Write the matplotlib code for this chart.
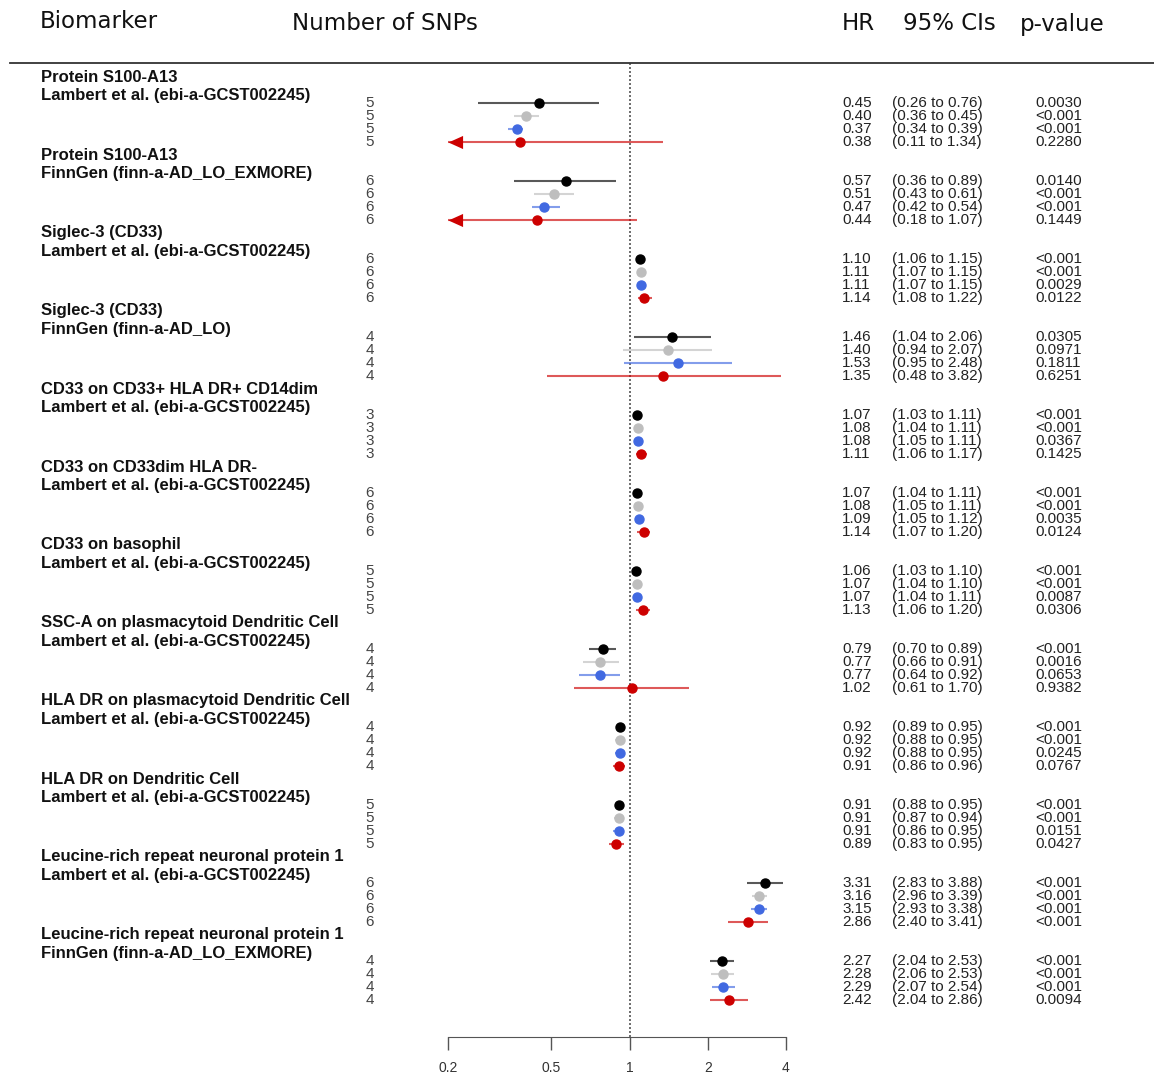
import numpy as np
import matplotlib.pyplot as plt
from matplotlib.path import Path
from matplotlib.transforms import blended_transform_factory

# biomarker labels (two lines each)
titles = ['Protein S100-A13', 'Protein S100-A13', 'Siglec-3 (CD33)', 'Siglec-3 (CD33)',
          'CD33 on CD33+ HLA DR+ CD14dim', 'CD33 on CD33dim HLA DR-', 'CD33 on basophil',
          'SSC-A on plasmacytoid Dendritic Cell', 'HLA DR on plasmacytoid Dendritic Cell',
          'HLA DR on Dendritic Cell', 'Leucine-rich repeat neuronal protein 1',
          'Leucine-rich repeat neuronal protein 1']
sources = ['Lambert et al. (ebi-a-GCST002245)', 'FinnGen (finn-a-AD_LO_EXMORE)',
           'Lambert et al. (ebi-a-GCST002245)', 'FinnGen (finn-a-AD_LO)',
           'Lambert et al. (ebi-a-GCST002245)', 'Lambert et al. (ebi-a-GCST002245)',
           'Lambert et al. (ebi-a-GCST002245)', 'Lambert et al. (ebi-a-GCST002245)',
           'Lambert et al. (ebi-a-GCST002245)', 'Lambert et al. (ebi-a-GCST002245)',
           'Lambert et al. (ebi-a-GCST002245)', 'FinnGen (finn-a-AD_LO_EXMORE)']
n_snps = [5, 6, 6, 4, 3, 6, 5, 4, 4, 5, 6, 4]

hr = [[0.45, 0.40, 0.37, 0.38], [0.57, 0.51, 0.47, 0.44], [1.10, 1.11, 1.11, 1.14],
      [1.46, 1.40, 1.53, 1.35], [1.07, 1.08, 1.08, 1.11], [1.07, 1.08, 1.09, 1.14],
      [1.06, 1.07, 1.07, 1.13], [0.79, 0.77, 0.77, 1.02], [0.92, 0.92, 0.92, 0.91],
      [0.91, 0.91, 0.91, 0.89], [3.31, 3.16, 3.15, 2.86], [2.27, 2.28, 2.29, 2.42]]
ci_lo = [[0.26, 0.36, 0.34, 0.11], [0.36, 0.43, 0.42, 0.18], [1.06, 1.07, 1.07, 1.08],
         [1.04, 0.94, 0.95, 0.48], [1.03, 1.04, 1.05, 1.06], [1.04, 1.05, 1.05, 1.07],
         [1.03, 1.04, 1.04, 1.06], [0.70, 0.66, 0.64, 0.61], [0.89, 0.88, 0.88, 0.86],
         [0.88, 0.87, 0.86, 0.83], [2.83, 2.96, 2.93, 2.40], [2.04, 2.06, 2.07, 2.04]]
ci_hi = [[0.76, 0.45, 0.39, 1.34], [0.89, 0.61, 0.54, 1.07], [1.15, 1.15, 1.15, 1.22],
         [2.06, 2.07, 2.48, 3.82], [1.11, 1.11, 1.11, 1.17], [1.11, 1.11, 1.12, 1.20],
         [1.10, 1.10, 1.11, 1.20], [0.89, 0.91, 0.92, 1.70], [0.95, 0.95, 0.95, 0.96],
         [0.95, 0.94, 0.95, 0.95], [3.88, 3.39, 3.38, 3.41], [2.53, 2.53, 2.54, 2.86]]
pvals = [['0.0030', '<0.001', '<0.001', '0.2280'], ['0.0140', '<0.001', '<0.001', '0.1449'],
         ['<0.001', '<0.001', '0.0029', '0.0122'], ['0.0305', '0.0971', '0.1811', '0.6251'],
         ['<0.001', '<0.001', '0.0367', '0.1425'], ['<0.001', '<0.001', '0.0035', '0.0124'],
         ['<0.001', '<0.001', '0.0087', '0.0306'], ['<0.001', '0.0016', '0.0653', '0.9382'],
         ['<0.001', '<0.001', '0.0245', '0.0767'], ['<0.001', '<0.001', '0.0151', '0.0427'],
         ['<0.001', '<0.001', '<0.001', '<0.001'], ['<0.001', '<0.001', '<0.001', '0.0094']]

colors = ['#000000', '#BEBEBE', '#4169E1', '#CD0000']
xticks = [0.2, 0.5, 1, 2, 4]
xmin, xmax = 0.2, 4

W, H = 1154, 1077
fig = plt.figure(figsize=(W / 100, H / 100), dpi=100)
# plot area in pixels: x 448..786, y 63..1037
ax = fig.add_axes([448 / W, 1 - 1037 / H, 338 / W, (1037 - 63) / H])
ax.set_xscale('log')
ax.set_xlim(xmin, xmax)
# one row = 13 px, one group = 6 rows; row 0 sits at pixel 103
ax.set_ylim((1037 - 103) / 13, (63 - 103) / 13)
for s in ['top', 'right', 'left']:
    ax.spines[s].set_visible(False)
ax.spines['bottom'].set_color('#555555')
ax.set_yticks([])
ax.set_xticks(xticks)
ax.set_xticklabels([str(t) for t in xticks])
ax.minorticks_off()
ax.tick_params(axis='x', length=9, width=1, color='#555555', labelsize=10,
               labelcolor='#333333', pad=8)
for lab in ax.get_xticklabels():
    lab.set_family('Liberation Sans')

ax.axvline(1, color='#555555', ls=(0, (1.2, 1.2)), lw=1.2, zorder=1)

# left arrow marker, tip at the data point
arrow = Path([(0, 0), (1, 0.45), (1, -0.45), (0, 0)],
             [Path.MOVETO, Path.LINETO, Path.LINETO, Path.CLOSEPOLY])

tr_text = blended_transform_factory(fig.transFigure, ax.transData)
num_font = dict(family='Liberation Sans', fontsize=11, color='#222222', va='center')
lab_font = dict(family='Liberation Sans', fontsize=12, fontweight='bold',
                color='#111111', va='center')

for g in range(len(titles)):
    base = 6 * g
    ax.text(41 / W, base - 2.0, titles[g], transform=tr_text, **lab_font)
    ax.text(41 / W, base - 0.54, sources[g], transform=tr_text, **lab_font)
    for r in range(4):
        y = base + r
        lo = max(ci_lo[g][r], xmin)
        ax.plot([lo, ci_hi[g][r]], [y, y], color=colors[r], lw=1.5, alpha=0.65,
                solid_capstyle='butt', zorder=2)
        ax.plot(hr[g][r], y, 'o', color=colors[r], ms=6.5, zorder=3)
        if ci_lo[g][r] < xmin:
            ax.plot(xmin, y, marker=arrow, color=colors[r], ms=21, mew=0,
                    zorder=3, clip_on=False)
        ax.text(370 / W, y, str(n_snps[g]), transform=tr_text, ha='center',
                **{**num_font, 'color': '#444444'})
        ax.text(842 / W, y, '%.2f' % hr[g][r], transform=tr_text, **num_font)
        ax.text(892 / W, y, '(%.2f to %.2f)' % (ci_lo[g][r], ci_hi[g][r]),
                transform=tr_text, **num_font)
        ax.text(1035 / W, y, pvals[g][r], transform=tr_text, **num_font)

# header
head = dict(family='Liberation Sans Narrow', fontsize=16.5, va='center', color='#111111')
fig.text(40 / W, 1 - 22 / H, 'Biomarker', **head)
fig.text(292 / W, 1 - 24 / H, 'Number of SNPs', **head)
fig.text(842 / W, 1 - 24 / H, 'HR', **head)
fig.text(903 / W, 1 - 24 / H, '95% CIs', **head)
fig.text(1020 / W, 1 - 24 / H, 'p-value', **head)
fig.add_artist(plt.Line2D([10 / W, 1], [1 - 63 / H, 1 - 63 / H], color='#333333', lw=1.3))

fig.savefig('out.png', dpi=100)
